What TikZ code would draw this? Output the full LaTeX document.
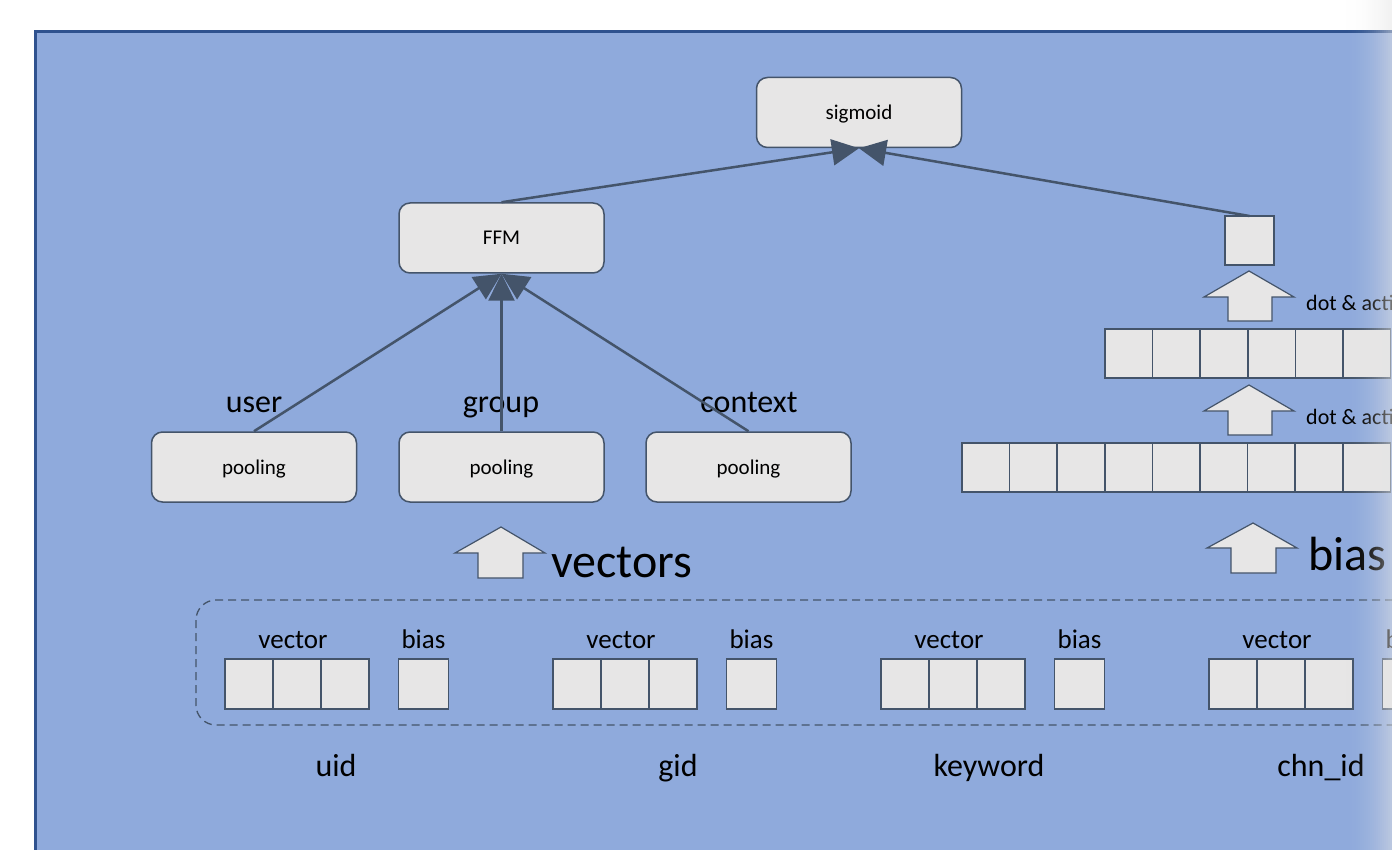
\documentclass[tikz,border=0pt]{standalone}
\usepackage{fontspec}
\setmainfont{Carlito}
\usetikzlibrary{arrows.meta}
\definecolor{bgblue}{HTML}{8FAADC}
\definecolor{bordblue}{HTML}{2F528F}
\definecolor{boxfill}{HTML}{E7E6E6}
\definecolor{slate}{HTML}{44546A}
\definecolor{fadecol}{HTML}{E4E4E4}
\begin{document}
\begin{tikzpicture}[x=1pt,y=-1pt,
  box/.style={draw=slate, fill=boxfill, line width=1.5pt, rounded corners=11pt,
    minimum width=205pt, minimum height=70pt, inner sep=0pt,
    text height=14pt, text depth=0pt, font=\fontsize{21}{25}\selectfont},
  cell/.style={draw=slate, fill=boxfill, line width=1.5pt, minimum width=48pt,
    minimum height=50pt, inner sep=0pt, outer sep=0pt},
  conn/.style={draw=slate, line width=2.5pt, -{Triangle[length=27pt,width=26pt]}},
  blockarrow/.style={draw=slate, fill=boxfill, line width=1.2pt, line join=miter},
  midlabel/.style={anchor=base, inner sep=0pt, font=\fontsize{32}{36}\selectfont},
  smalllabel/.style={anchor=base, inner sep=0pt, font=\fontsize{27}{30}\selectfont},
  biglabel/.style={anchor=base west, inner sep=0pt, font=\fontsize{48}{52}\selectfont},
  dotlabel/.style={anchor=base west, inner sep=0pt, font=\fontsize{22}{26}\selectfont},
  groupbox/.style={draw=slate, line width=1.3pt, dash pattern=on 8pt off 5pt, rounded corners=20pt}
]
\useasboundingbox (0,0) rectangle (1392,850);
\clip (0,0) rectangle (1392,850);
% background panel
\fill[white] (0,0) rectangle (1392,850);
\fill[bgblue] (35,32) rectangle (1420,880);
\draw[bordblue, line width=3pt] (35,880) -- (35,32) -- (1420,32);

% top boxes
\node[box] (sig) at (859,112.5) {sigmoid};
\node[box] (ffm) at (501.5,238) {FFM};
\node[box] (pool1) at (254,467) {pooling};
\node[box] (pool2) at (501.5,467) {pooling};
\node[box] (pool3) at (748.5,467) {pooling};

% labels above pooling
\node[midlabel] (luser) at (254,412) {user};
\node[midlabel] (lgroup) at (501,412) {group};
\node[midlabel] (lcontext) at (749,412) {context};

% right column
\node[cell, minimum width=49pt, minimum height=49pt] (out) at (1249.5,240.5) {};
\foreach \i in {0,...,5}
  \node[cell, minimum width=47.6pt, minimum height=49pt] (m\i) at ({1105+23.8+47.6*\i},353.5) {};
\foreach \i in {0,...,8}
  \node[cell, minimum width=47.6pt, minimum height=49pt] (b\i) at ({962+23.8+47.6*\i},467.5) {};

% block arrows
\draw[blockarrow] (1249,271) -- (1294,297) -- (1272,297) -- (1272,321) -- (1228,321) -- (1228,297) -- (1204,297) -- cycle;
\draw[blockarrow] (1249,385) -- (1294,411) -- (1272,411) -- (1272,435) -- (1228,435) -- (1228,411) -- (1204,411) -- cycle;
\draw[blockarrow] (1253,523) -- (1297,548) -- (1276,548) -- (1276,573) -- (1231,573) -- (1231,548) -- (1207,548) -- cycle;
\draw[blockarrow] (501,527) -- (545,553) -- (523,553) -- (523,578) -- (478,578) -- (478,553) -- (455,553) -- cycle;

\node[dotlabel] (dot1) at (1306,310) {dot \& activation};
\node[dotlabel] (dot2) at (1306,424) {dot \& activation};
\node[biglabel] (lvectors) at (551,577) {vectors};
\node[biglabel] (lbias) at (1308,570) {bias};

% connectors
\draw[conn] (pool1.north) -- (ffm.south);
\draw[conn] (pool2.north) -- (ffm.south);
\draw[conn] (pool3.north) -- (ffm.south);
\draw[conn] (ffm.north) -- (sig.south);
\draw[conn] (out.north) -- (sig.south);

% embedding group
\draw[groupbox] (196,600) rectangle (1440,725);
\foreach \k/\nm in {0/uid,1/gid,2/keyword,3/chn}{
  \foreach \j in {0,1,2}
    \node[cell] (\nm v\j) at ({249+48*\j+328*\k},684) {};
  \node[cell, minimum width=50pt] (\nm b) at ({423.5+328*\k},684) {};
  \node[smalllabel] (\nm lv) at ({293+328*\k},648) {vector};
  \node[smalllabel] (\nm lb) at ({423.5+328*\k},648) {bias};
}
\node[midlabel] (nuid) at (336,776) {uid};
\node[midlabel] (ngid) at (678,776) {gid};
\node[midlabel] (nkey) at (989,776) {keyword};
\node[midlabel] (nchn) at (1321,776) {chn\_id};

% right edge fade (strips of rising opacity)
\foreach \s in {0,...,25}
  \fill[fadecol, opacity={0.55*(\s/25)^2}] ({1342+2*\s},0) rectangle ({1344.2+2*\s},850);
\end{tikzpicture}
\end{document}
